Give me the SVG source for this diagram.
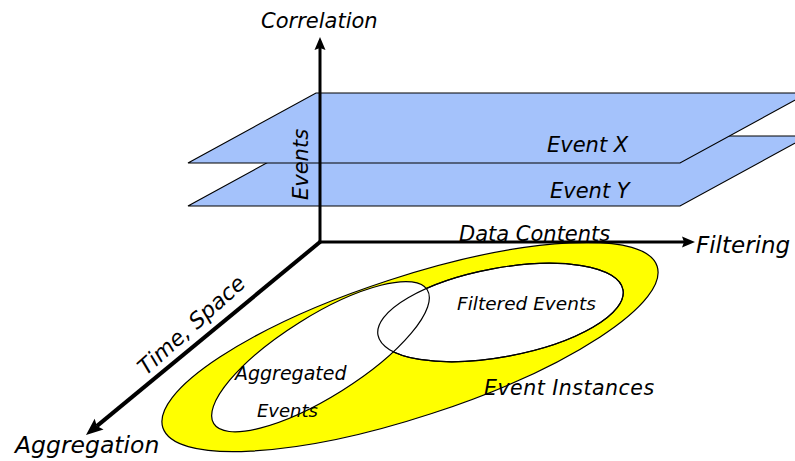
<svg xmlns="http://www.w3.org/2000/svg" width="795" height="461" viewBox="0 0 795 461">
  <style>
    .lbl { font-family: "DejaVu Sans", "Verdana", sans-serif; font-style: italic; fill: #000; }
    .plane { fill: #a4c2fb; stroke: #000; stroke-width: 1.2; stroke-linejoin: miter; }
    .axis { stroke: #000; fill: none; }
    .set { fill: #fff; stroke: #000; stroke-width: 1.2; }
    .outline { fill: none; stroke: #000; stroke-width: 1.2; }
  </style>
  <defs>
    <marker id="head" markerUnits="userSpaceOnUse" orient="auto" overflow="visible" markerWidth="30" markerHeight="30" refX="0" refY="0" viewBox="-15 -15 30 30">
      <path d="M11,0 L-2,-5.5 L0,0 L-2,5.5 Z" fill="#000"/>
    </marker>
    <marker id="headBig" markerUnits="userSpaceOnUse" orient="auto" overflow="visible" markerWidth="40" markerHeight="40" refX="0" refY="0" viewBox="-20 -20 40 40">
      <path d="M14,0 L-3,-7 L0,0 L-3,7 Z" fill="#000"/>
    </marker>
  </defs>

  <!-- event planes -->
  <g id="plane-event-y">
    <polygon class="plane" points="316,136 808,136 680,206 188,206"/>
    <text class="lbl" x="550" y="198" font-size="21">Event Y</text>
  </g>
  <g id="plane-event-x">
    <polygon class="plane" points="316,93 808,93 680,163 188,163"/>
    <text class="lbl" x="547" y="152" font-size="21">Event X</text>
  </g>

  <!-- event sets -->
  <g id="event-instances">
    <ellipse cx="410" cy="347" rx="260" ry="70" transform="rotate(-18.1 410 347)" fill="#ffff00" stroke="#000" stroke-width="1.2"/>
    <text class="lbl" x="484" y="395" font-size="20.5" letter-spacing="0.5">Event Instances</text>
  </g>
  <g id="filtered-events">
    <ellipse class="set" cx="500.5" cy="312.5" rx="124.6" ry="44.4" transform="rotate(-10.5 500.5 312.5)"/>
  </g>
  <g id="aggregated-events">
    <ellipse class="set" cx="320.5" cy="356.7" rx="126" ry="40.2" transform="rotate(-32.1 320.5 356.7)"/>
    <ellipse class="outline" cx="500.5" cy="312.5" rx="124.6" ry="44.4" transform="rotate(-10.5 500.5 312.5)"/>
    <text class="lbl" x="235" y="380" font-size="19">Aggregated</text>
    <text class="lbl" x="257" y="417" font-size="18">Events</text>
  </g>
  <g id="filtered-label">
    <text class="lbl" x="457" y="310" font-size="18.5">Filtered Events</text>
  </g>

  <!-- axes -->
  <g id="connectors">
    <line class="axis" x1="320" y1="243.5" x2="320" y2="48" stroke-width="3" marker-end="url(#head)"/>
    <line class="axis" x1="318.5" y1="242" x2="684" y2="242" stroke-width="3" marker-end="url(#head)"/>
    <line class="axis" x1="320" y1="242" x2="96.8" y2="426.1" stroke-width="4" marker-end="url(#headBig)"/>
  </g>

  <!-- axis labels -->
  <g id="axis-correlation">
    <text class="lbl" x="261" y="28" font-size="21">Correlation</text>
    <text class="lbl" transform="translate(308,200) rotate(-90)" font-size="21">Events</text>
  </g>
  <g id="axis-filtering">
    <text class="lbl" x="459" y="241" font-size="21">Data Contents</text>
    <text class="lbl" x="696" y="253" font-size="23">Filtering</text>
  </g>
  <g id="axis-aggregation">
    <text class="lbl" transform="translate(146,376) rotate(-42)" font-size="22">Time, Space</text>
    <text class="lbl" x="15" y="453" font-size="23.5">Aggregation</text>
  </g>
</svg>
